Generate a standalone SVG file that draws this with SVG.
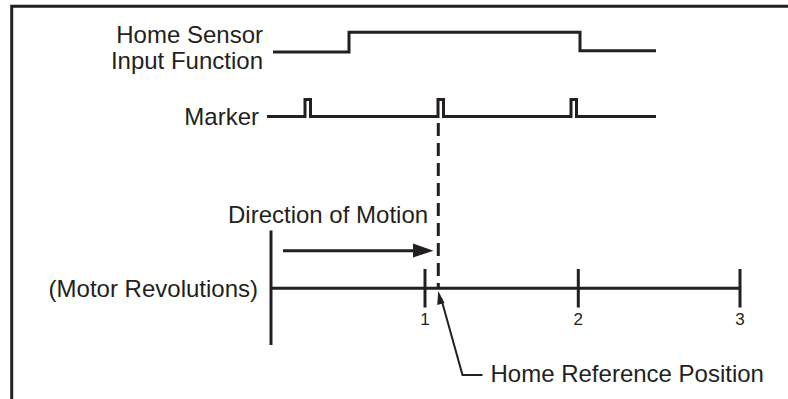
<svg xmlns="http://www.w3.org/2000/svg" width="788" height="399" viewBox="0 0 788 399">
<style>
.ln{fill:none;stroke:#231f20;stroke-width:3;stroke-linejoin:miter;stroke-linecap:butt}
.thin{fill:none;stroke:#231f20;stroke-width:2}
.t{font-family:"Liberation Sans",Arial,sans-serif;font-size:24px;fill:#231f20}
.n{font-family:"Liberation Sans",Arial,sans-serif;font-size:17px;fill:#231f20;text-anchor:middle}
</style>
<rect width="788" height="399" fill="#fff"/>
<g id="frame">
<path class="ln" d="M11.7,399 V6.2 H788"/>
</g>
<g id="home-sensor">
<text class="t" x="263" y="42.5" text-anchor="end">Home Sensor</text>
<text class="t" x="263" y="69" text-anchor="end">Input Function</text>
<path class="ln" d="M273,52 H349 V32.3 H580 V50.7 H656"/>
</g>
<g id="marker">
<text class="t" x="259" y="124.5" text-anchor="end">Marker</text>
<path class="ln" d="M267,116.5 H305 V99.5 H310.5 V116.5 H438 V99.5 H443.5 V116.5 H571 V99.5 H576.5 V116.5 H656"/>
</g>
<g id="axis">
<text class="t" x="258" y="297" text-anchor="end">(Motor Revolutions)</text>
<path class="ln" d="M271,230.5 V345 M271,288.3 H740.5 M425,269 V307.5 M578.3,269 V307.5 M740,269 V307.5"/>
<text class="n" x="425" y="325">1</text>
<text class="n" x="578.3" y="325">2</text>
<text class="n" x="740" y="325">3</text>
</g>
<g id="direction">
<text class="t" x="228" y="223">Direction of Motion</text>
</g>
<g id="home-reference">
<text class="t" x="490.5" y="382">Home Reference Position</text>
</g>
<g id="connectors">
<path class="ln" d="M438.3,123 V288" stroke-dasharray="13 7"/>
<path class="ln" d="M283,250.7 H414"/>
<path d="M413,243.5 L433.5,250.7 L413,257.5 Z" fill="#231f20"/>
<path class="thin" d="M482.5,375 H462.5 L441,298"/>
<path d="M438.3,291 L444.5,303 L437.2,305 Z" fill="#231f20"/>
</g>
</svg>
